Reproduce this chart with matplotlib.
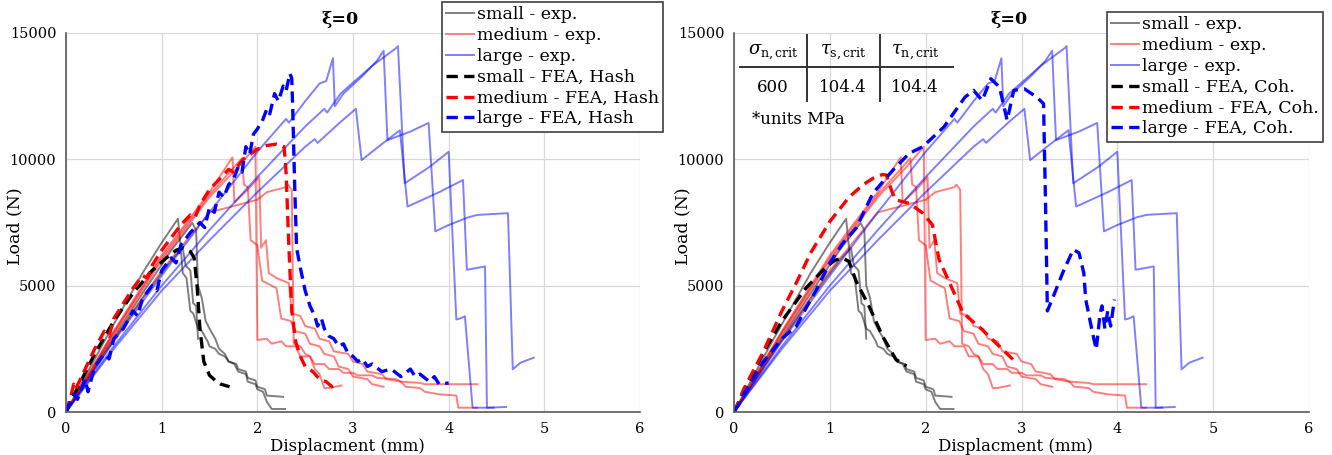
import matplotlib.pyplot as plt
from matplotlib.lines import Line2D

plt.rcParams['font.family'] = 'DejaVu Serif'
plt.rcParams['mathtext.fontset'] = 'dejavuserif'

# ---- experimental curves (same tests in both panels) ----
# small
sm1_x = [0, 0.4, 0.8, 1.0, 1.17, 1.2, 1.22, 1.26, 1.3, 1.33, 1.38, 1.42, 1.48, 1.5, 1.56, 1.6, 1.66, 1.7,
         1.78, 1.8, 1.88, 1.9, 1.98, 2.0, 2.08, 2.1, 2.27]
sm1_y = [0, 2800, 5500, 6700, 7650, 6500, 5500, 5300, 4000, 3900, 3300, 3200, 2800, 2600, 2500, 2300, 2200,
         2000, 1900, 1700, 1600, 1350, 1250, 1000, 900, 650, 600]
sm2_x = [0, 0.4, 0.8, 1.1, 1.32, 1.36, 1.38, 1.42, 1.46, 1.5, 1.56, 1.6, 1.66, 1.7, 1.76, 1.8, 1.88, 1.9,
         1.98, 2.0, 2.06, 2.1, 2.15, 2.29]
sm2_y = [0, 2400, 4700, 6400, 7480, 7200, 5000, 4500, 3600, 3300, 2900, 2500, 2300, 2000, 1900, 1600, 1500,
         1200, 1100, 900, 800, 400, 120, 120]
sm3_x = [0, 0.4, 0.8, 1.1, 1.22, 1.25, 1.3, 1.33, 1.36, 1.38]
sm3_y = [0, 2300, 4500, 6000, 6500, 5800, 5600, 4300, 4200, 2900]

# medium
md1_x = [0, 0.5, 1.0, 1.5, 1.8, 1.98, 2.0, 2.1, 2.15, 2.25, 2.3, 2.4, 2.45, 2.55, 2.6, 2.7, 2.75, 2.85,
         2.9, 3.0, 3.05, 3.2, 3.25, 3.45, 3.5, 3.7, 3.75, 4.3]
md1_y = [0, 3100, 6000, 8500, 9700, 10500, 2850, 2900, 2700, 2800, 2600, 2600, 2200, 2200, 1900, 1900,
         1700, 1700, 1550, 1550, 1450, 1450, 1350, 1300, 1200, 1150, 1100, 1100]
md2_x = [0, 0.5, 1.0, 1.5, 1.74, 1.76, 1.9, 2.02, 2.04, 2.09, 2.12, 2.2, 2.33, 2.36, 2.45, 2.5, 2.6, 2.65,
         2.75, 2.8, 2.95, 3.0, 3.1, 3.15, 3.3, 3.35, 3.5, 3.55, 3.7, 3.75, 3.9, 4.08, 4.1, 4.3]
md2_y = [0, 3200, 6200, 8700, 10080, 8300, 8800, 9300, 6500, 6800, 5500, 5300, 5100, 3900, 3800, 3400,
         3300, 2900, 2800, 2400, 2300, 2000, 1900, 1600, 1500, 1300, 1200, 1000, 950, 800, 700, 650, 170, 170]
md3_x = [0, 0.5, 1.0, 1.5, 2.0, 2.1, 2.3, 2.32, 2.36, 2.38, 2.45, 2.5, 2.55, 2.6, 2.65, 2.7, 2.75, 2.88]
md3_y = [0, 2900, 5600, 7900, 8400, 8700, 8900, 9000, 8800, 2700, 2600, 2300, 2200, 1700, 1500, 950, 950, 1050]
md4_x = [0, 0.5, 1.0, 1.5, 1.84, 1.86, 1.9, 1.93, 2.0, 2.05, 2.2, 2.25, 2.35, 2.4, 2.5, 2.55, 2.65, 2.7,
         2.8, 2.85, 2.95, 3.0, 3.15, 3.2, 3.32]
md4_y = [0, 3150, 6100, 8600, 10040, 9000, 8900, 6800, 6600, 5200, 4900, 3700, 3600, 3200, 3100, 2700,
         2600, 2300, 2200, 1800, 1700, 1400, 1300, 1100, 1000]

# large
lg1_x = [0, 0.5, 1.0, 1.5, 2.0, 2.3, 2.33, 2.5, 2.65, 2.72, 2.79, 2.81, 2.9, 3.1, 3.25, 3.32, 3.36, 3.6,
         3.79, 3.86, 4.0, 4.2, 4.3, 4.62, 4.67, 4.75, 4.89]
lg1_y = [0, 2800, 5400, 7900, 10300, 11600, 11450, 12300, 13000, 13100, 14000, 12100, 12600, 13300, 13900,
         14300, 10760, 11100, 11440, 7150, 7400, 7700, 7800, 7870, 1690, 1950, 2150]
lg2_x = [0, 0.5, 1.0, 1.5, 2.0, 2.5, 2.7, 2.73, 2.87, 3.2, 3.45, 3.47, 3.54, 3.8, 4.0, 4.08, 4.12, 4.17,
         4.25, 4.47]
lg2_y = [0, 2600, 5000, 7200, 9300, 11300, 12000, 11850, 12600, 13700, 14400, 14480, 9050, 9700, 10300,
         3660, 3700, 3790, 170, 170]
lg3_x = [0, 0.5, 1.0, 1.5, 2.0, 2.5, 2.6, 2.63, 2.87, 3.03, 3.09, 3.3, 3.49, 3.57, 3.9, 4.15, 4.19, 4.38,
         4.40, 4.6]
lg3_y = [0, 2500, 4800, 6800, 8700, 10500, 10800, 10650, 11480, 12000, 9970, 10600, 11150, 8130, 8700,
         9180, 5630, 5760, 170, 200]

# ---- FEA, Hashin (left) ----
hs_s_x = [0, 0.1, 0.3, 0.5, 0.7, 0.9, 1.05, 1.15, 1.22, 1.3, 1.34, 1.37, 1.4, 1.44, 1.5, 1.56, 1.62, 1.71]
hs_s_y = [0, 800, 2300, 3600, 4700, 5600, 6100, 6400, 6500, 6350, 6100, 5000, 3300, 2000, 1450, 1250, 1100, 1000]
hs_m_x = [0, 0.05, 0.08, 0.1, 0.2, 0.3, 0.4, 0.45, 0.5, 0.6, 0.7, 0.8, 0.85, 0.9, 1.0, 1.1, 1.2, 1.3, 1.35,
          1.4, 1.5, 1.6, 1.7, 1.75, 1.85, 2.0, 2.1, 2.2, 2.28, 2.3, 2.33, 2.36, 2.4, 2.45, 2.5, 2.58, 2.65,
          2.72, 2.78, 2.85]
hs_m_y = [0, 600, 1100, 900, 1700, 2500, 3200, 3000, 3700, 4300, 4900, 5400, 5300, 5800, 6400, 6900, 7400,
          7800, 7700, 8200, 8800, 9200, 9600, 9500, 10000, 10400, 10550, 10600, 10500, 9500, 6500, 4000, 2800,
          2200, 1800, 1600, 1300, 1200, 1000, 1150]
hs_l_x = [0, 0.08, 0.12, 0.2, 0.23, 0.3, 0.4, 0.45, 0.5, 0.6, 0.7, 0.75, 0.8, 0.9, 0.95, 1.0, 1.1, 1.15,
          1.2, 1.3, 1.4, 1.45, 1.5, 1.55, 1.6, 1.65, 1.7, 1.75, 1.8, 1.84, 1.88, 1.92, 1.96, 2.0, 2.05, 2.1,
          2.13, 2.18, 2.22, 2.27, 2.3, 2.34, 2.36, 2.37, 2.39, 2.41, 2.45, 2.5, 2.55, 2.6, 2.63, 2.67, 2.7,
          2.75, 2.8, 2.85, 2.9, 2.95, 3.0, 3.05, 3.1, 3.15, 3.2, 3.3, 3.4, 3.5, 3.6, 3.65, 3.7, 3.8, 3.85,
          3.9, 4.0]
hs_l_y = [0, 700, 500, 1300, 800, 1800, 2300, 2100, 2900, 3300, 4000, 3800, 4500, 5000, 4800, 5600, 6100,
          5900, 6600, 7100, 7500, 7300, 8100, 7900, 8700, 8500, 9000, 9200, 9700, 9500, 10500, 10200, 11000,
          11200, 11500, 12000, 11800, 12600, 12300, 12900, 12700, 13400, 13200, 12000, 9000, 6500, 5700,
          4800, 4200, 3800, 3400, 3700, 3300, 3000, 2900, 2600, 2700, 2300, 2200, 2000, 2100, 1800, 1900,
          1600, 1700, 1400, 1700, 1400, 1500, 1200, 1400, 1100, 1150]

# ---- FEA, cohesive (right) ----
ch_s_x = [0, 0.1, 0.3, 0.5, 0.75, 0.95, 1.05, 1.135, 1.2, 1.275, 1.41, 1.55, 1.69, 1.8]
ch_s_y = [0, 800, 2300, 3600, 4900, 5700, 6000, 6100, 5950, 5170, 4180, 3000, 2080, 1820]
ch_m_x = [0, 0.05, 0.1, 0.3, 0.5, 0.65, 0.8, 1.0, 1.2, 1.345, 1.45, 1.55, 1.59, 1.65, 1.69, 1.83, 1.97,
          2.07, 2.14, 2.25, 2.39, 2.59, 2.73, 2.91]
ch_m_y = [0, 400, 900, 2340, 4000, 5110, 6300, 7540, 8500, 8990, 9250, 9400, 9380, 8700, 8390, 8260, 7870,
          7410, 6030, 5110, 3920, 3260, 2740, 2080]
ch_l_x = [0, 0.05, 0.1, 0.3, 0.5, 0.65, 0.75, 0.86, 1.0, 1.135, 1.275, 1.45, 1.66, 1.83, 1.97, 2.19, 2.41,
          2.5, 2.59, 2.68, 2.77, 2.85, 2.92, 3.03, 3.16, 3.23, 3.25, 3.27, 3.32, 3.43, 3.54, 3.6, 3.65, 3.67,
          3.74, 3.78, 3.82, 3.84, 3.87, 3.9, 3.93, 3.97]
ch_l_y = [0, 300, 700, 1950, 2900, 3390, 4100, 4840, 5900, 6680, 7280, 8660, 9580, 10240, 10500, 11280,
          12460, 12730, 12330, 13190, 12860, 11550, 12730, 12790, 12460, 12200, 8400, 4000, 4460, 5510, 6430,
          6300, 5500, 4460, 3150, 2470, 3900, 4200, 3300, 4000, 3400, 4450]

small_exp = [(sm1_x, sm1_y), (sm2_x, sm2_y), (sm3_x, sm3_y)]
medium_exp = [(md1_x, md1_y), (md2_x, md2_y), (md3_x, md3_y), (md4_x, md4_y)]
large_exp = [(lg1_x, lg1_y), (lg2_x, lg2_y), (lg3_x, lg3_y)]

W, H = 1332, 455
fig = plt.figure(figsize=(W / 100, H / 100), dpi=100)
ax1 = fig.add_axes([66 / W, 1 - 412 / H, 574 / W, 379 / H])
ax2 = fig.add_axes([734 / W, 1 - 412 / H, 575 / W, 379 / H])

dash = (0, (3.4, 1.9))


def setup(ax, fea, fea_name):
    ax.set_xlim(0, 6)
    ax.set_ylim(0, 15000)
    ax.set_xticks(range(7))
    ax.set_yticks([0, 5000, 10000, 15000])
    ax.grid(color='#d9d9d9', lw=0.9)
    ax.set_axisbelow(True)
    for s in ['top', 'right']:
        ax.spines[s].set_visible(False)
    for s in ['left', 'bottom']:
        ax.spines[s].set_color('#595959')
        ax.spines[s].set_linewidth(1.2)
    ax.tick_params(length=0, labelsize=10.5, pad=7)

    for groups, col, name in [(small_exp, 'black', 'small'), (medium_exp, 'red', 'medium'),
                              (large_exp, 'blue', 'large')]:
        for i, (x, y) in enumerate(groups):
            ax.plot(x, y, color=col, alpha=0.5, lw=1.4, label=f'{name} - exp.' if i == 0 else None)
    for (x, y), col, name in zip(fea, ['black', 'red', 'blue'], ['small', 'medium', 'large']):
        ax.plot(x, y, color=col, lw=2.4, linestyle=dash, label=f'{name} - FEA, {fea_name}')

    # label sits just under the tick numbers, as in the source figure
    ax.set_xlabel('Displacment (mm)', fontsize=12)
    ax.xaxis.set_label_coords(0.49, -0.068)
    ax.set_ylabel('Load (N)', fontsize=12.5)
    ax.yaxis.set_label_coords(-0.074, 0.49)
    ax.text(0.478, 1.012, 'ξ=0', transform=ax.transAxes, ha='center', va='bottom',
            fontsize=12.5, fontweight='bold')


setup(ax1, [(hs_s_x, hs_s_y), (hs_m_x, hs_m_y), (hs_l_x, hs_l_y)], 'Hash')
setup(ax2, [(ch_s_x, ch_s_y), (ch_m_x, ch_m_y), (ch_l_x, ch_l_y)], 'Coh.')

leg_kw = dict(loc='upper right', fontsize=12.5, labelspacing=0.22, handlelength=1.6,
              handletextpad=0.15, borderpad=0.25, borderaxespad=0, fancybox=False,
              edgecolor='#404040', framealpha=1)
h, l = ax1.get_legend_handles_labels()
lg = fig.legend(h, l, bbox_to_anchor=(663 / W, 1 - 2 / H), **leg_kw)
lg.get_frame().set_linewidth(1.2)
h, l = ax2.get_legend_handles_labels()
lg = fig.legend(h, l, bbox_to_anchor=(1323 / W, 1 - 12 / H), **leg_kw)
lg.get_frame().set_linewidth(1.2)

# cohesive strength table
crit_names = [r'$\sigma_{\mathrm{n,crit}}$', r'$\tau_{\mathrm{s,crit}}$', r'$\tau_{\mathrm{n,crit}}$']
crit_vals = ['600', '104.4', '104.4']
col_px = [773, 843, 915]
for px, nm, v in zip(col_px, crit_names, crit_vals):
    fig.text(px / W, 1 - 52 / H, nm, ha='center', va='center', fontsize=13)
    fig.text(px / W, 1 - 87 / H, v, ha='center', va='center', fontsize=12)
fig.add_artist(Line2D([740 / W, 953 / W], [1 - 67 / H, 1 - 67 / H], color='#333333', lw=1.4))
for px in [807, 880]:
    fig.add_artist(Line2D([px / W, px / W], [1 - 35 / H, 1 - 101 / H], color='#333333', lw=1.4))
fig.text(752 / W, 1 - 120 / H, '*units MPa', ha='left', va='center', fontsize=12)

fig.savefig('out.png', dpi=100)
